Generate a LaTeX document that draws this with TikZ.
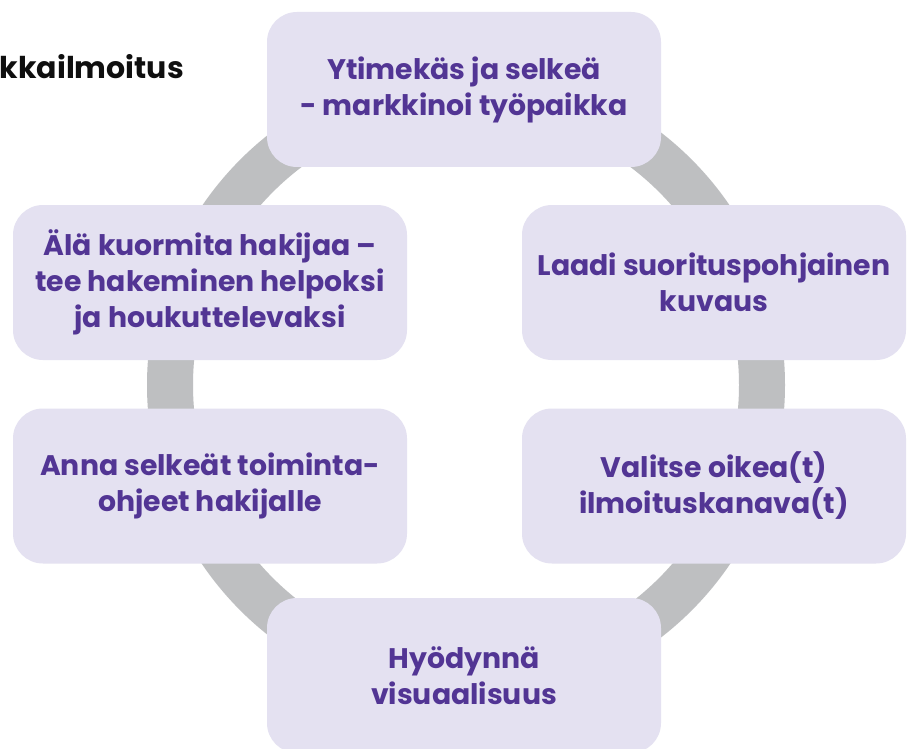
\documentclass[tikz,border=0pt]{standalone}
\usepackage{fontspec}
\setmainfont{Poppins}
\definecolor{boxfill}{RGB}{228,225,241}
\definecolor{boxtext}{RGB}{82,53,148}
\definecolor{ringgray}{RGB}{190,191,193}
\definecolor{titlecol}{RGB}{15,15,15}
\begin{document}
\begin{tikzpicture}[x=1pt,y=-1pt,
  stepbox/.style={fill=boxfill, draw=none, rounded corners=30pt,
    minimum width=394pt, minimum height=155pt, inner sep=0pt,
    text=boxtext, align=center, font=\bfseries\fontsize{28.3}{36}\selectfont}]
\useasboundingbox (0,0) rectangle (908,749);
\fill[white] (0,0) rectangle (908,749);
% ring
\draw[ringgray, line width=46pt] (466,385) circle[radius=296pt];
% boxes
\node[stepbox] (top) at (464,89.5) {Ytimekäs ja selkeä\\- markkinoi työpaikka};
\node[stepbox, minimum width=384pt] (r1) at (714,282.5) {Laadi suorituspohjainen\\kuvaus};
\node[stepbox, minimum width=384pt] (r2) at (714,486) {Valitse oikea(t)\\ilmoituskanava(t)};
\node[stepbox] (bot) at (464,675.5) {Hyödynnä\\visuaalisuus};
\node[stepbox] (l2) at (210,486) {Anna selkeät toiminta-\\ohjeet hakijalle};
\node[stepbox] (l1) at (210,282.5) {Älä kuormita hakijaa –\\tee hakeminen helpoksi\\ja houkuttelevaksi};
% title
\node[anchor=base east, inner sep=0pt, text=titlecol, font=\bfseries\fontsize{30}{34}\selectfont] (title) at (184,79) {kkailmoitus};
\end{tikzpicture}
\end{document}
